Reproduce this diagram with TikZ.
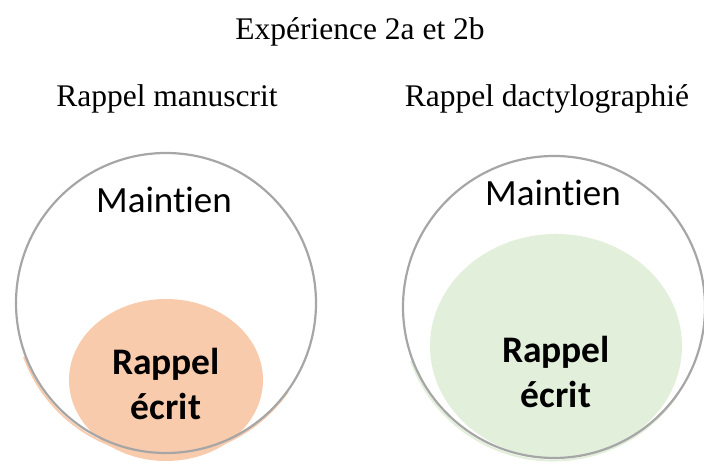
\documentclass[tikz,border=0pt]{standalone}
\usepackage{fontspec}
\setmainfont{Liberation Serif}
\newfontfamily\carlito[Ligatures=NoCommon]{Carlito}
\usetikzlibrary{shapes.geometric}
\definecolor{contour}{RGB}{166,166,166}
\definecolor{orangeclair}{RGB}{248,203,173}
\definecolor{vertclair}{RGB}{226,239,218}
\tikzset{
  titre/.style={anchor=base,font=\fontsize{31.5}{38}\selectfont},
  cercle/.style={circle,draw=contour,line width=2.2pt,minimum size=300pt,inner sep=0pt,outer sep=0pt},
  rappel/.style={ellipse,inner sep=0pt,outer sep=0pt},
  maintien/.style={anchor=base,font=\carlito\fontsize{37}{44}\selectfont},
  ecrit/.style={anchor=base,align=center,font=\carlito\bfseries\fontsize{37.5}{45}\selectfont},
  ombre/.style={line width=2pt}
}
\begin{document}
\begin{tikzpicture}[x=1pt,y=1pt]
  \useasboundingbox (0,0) rectangle (704,465);
  \node[titre] (titre) at (360,425) {Expérience 2a et 2b};
  \node[titre] (manuscrit) at (167,358) {Rappel manuscrit};
  \node[titre] (dactylo) at (547,358) {Rappel dactylographié};

  \node[rappel,fill=orangeclair,minimum width=194pt,minimum height=162pt] (ecritA) at (166,85) {};
  \node[rappel,fill=vertclair,minimum width=252pt,minimum height=224pt] (ecritB) at (556,119) {};
  \coordinate (centreA) at (166,162);
  \coordinate (centreB) at (554,158);
  \draw[ombre,orangeclair] ([shift={(-1,-2.5)}]centreA) ++(200:150) arc[start angle=200,end angle=325,radius=150];
  \draw[ombre,vertclair] ([shift={(-1,-2.5)}]centreB) ++(200:151) arc[start angle=200,end angle=325,radius=151];
  \node[cercle] (maintienA) at (centreA) {};
  \node[cercle,minimum size=302pt] (maintienB) at (centreB) {};

  \node[maintien] (texteA) at (164,252) {Maintien};
  \node[maintien] (texteB) at (553,259) {Maintien};
  \node[ecrit] (rappelA) at (166,45) {Rappel\\écrit};
  \node[ecrit] (rappelB) at (556,57) {Rappel\\écrit};
\end{tikzpicture}
\end{document}
